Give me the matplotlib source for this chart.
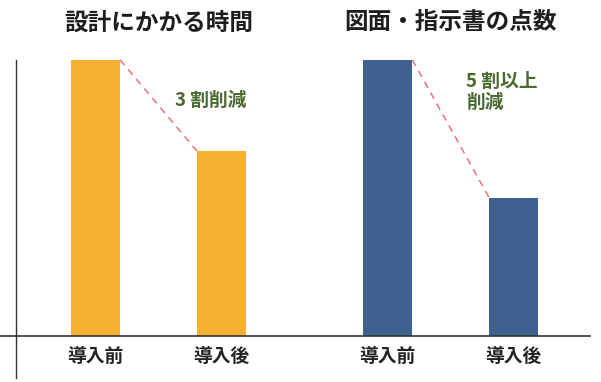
import matplotlib
matplotlib.use("Agg")
import matplotlib.pyplot as plt

plt.rcParams['font.family'] = ['Noto Sans CJK JP', 'DejaVu Sans']

# data
titles = ['設計にかかる時間', '図面・指示書の点数']
categories = ['導入前', '導入後']
time_values = [100, 67]
count_values = [100, 50]
notes = ['3 割削減', '5 割以上\n削減']
colors = ['#F6B034', '#3F6190']

fig = plt.figure(figsize=(6.01, 3.82), dpi=100)
ax = fig.add_axes([0, 0, 1, 1])
# pixel-ish layout: x unit = 126 px, baseline at 336 px, 100 -> 60 px
ax.set_xlim(-0.758, 4.012)
ax.set_ylim(-16.67, 121.7)
ax.axis('off')

width = 0.39
offsets = [0, 2.32]
groups = [time_values, count_values]

for g, (vals, off) in enumerate(zip(groups, offsets)):
    xs = [off + i for i in range(len(vals))]
    ax.bar(xs, vals, width=width, color=colors[g], zorder=2)
    # dashed connector from top-right of first bar to top-left of second
    ax.plot([xs[0] + width / 2, xs[1] - width / 2], [vals[0], vals[1]],
            ls=(0, (5, 4)), color='#EE6472', lw=1, zorder=3)
    for x, lab in zip(xs, categories):
        ax.text(x, -7.4, lab, ha='center', va='center', fontsize=13.5,
                fontweight='bold', color='#222222')
    ax.text(off + 0.5, 113.6, titles[g], ha='center', va='center',
            fontsize=17, fontweight='bold', color='#1e1e1e')

ax.text(0.63, 85.5, notes[0], ha='left', va='center', fontsize=13.5,
        fontweight='bold', color='#4A6B30')
ax.text(2.94, 88.4, notes[1], ha='left', va='center', fontsize=13.5,
        fontweight='bold', color='#4A6B30', linespacing=1.1)

# axis lines
ax.plot([-0.758, 3.925], [0, 0], color='#333333', lw=1.2, zorder=4)
ax.plot([-0.631, -0.631], [-15.2, 100], color='#333333', lw=1, zorder=4)

fig.savefig('out.png', dpi=100)
